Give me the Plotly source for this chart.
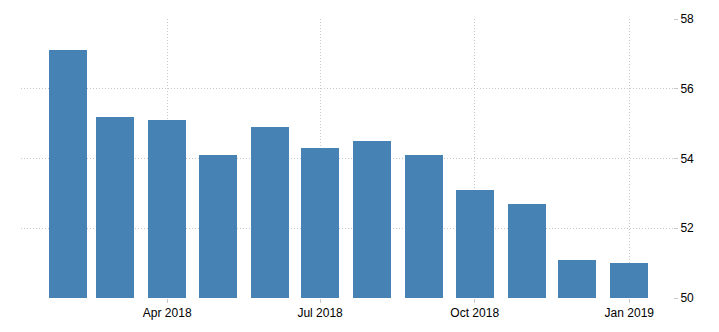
import plotly.graph_objects as go

months = ["2018-02-01", "2018-03-01", "2018-04-01", "2018-05-01", "2018-06-01", "2018-07-01",
          "2018-08-01", "2018-09-01", "2018-10-01", "2018-11-01", "2018-12-01", "2019-01-01"]
values = [57.1, 55.2, 55.1, 54.1, 54.9, 54.3, 54.5, 54.1, 53.1, 52.7, 51.1, 51.0]
x_tick_vals = ["2018-04-01", "2018-07-01", "2018-10-01", "2019-01-01"]
x_tick_text = ["Apr 2018", "Jul 2018", "Oct 2018", "Jan 2019"]
y_ticks = [50, 52, 54, 56, 58]

day_ms = 86400000
fig = go.Figure(go.Bar(
    x=months, y=values, base=0,
    width=[22.6 * day_ms] * len(months),
    marker=dict(color="#4682B4", line=dict(width=0)),
))

fig.update_layout(
    width=719, height=332,
    margin=dict(l=21, r=46, t=15, b=31),
    paper_bgcolor="white", plot_bgcolor="white",
    showlegend=False,
    font=dict(family="Liberation Sans, Arial, sans-serif", size=12, color="#000"),
    bargap=0,
)
fig.update_xaxes(
    type="date", range=["2018-01-04", "2019-01-27"],
    tickvals=x_tick_vals, ticktext=x_tick_text,
    showgrid=True, gridcolor="#c8c8c8", griddash="1px,2px", gridwidth=1,
    ticks="outside", ticklen=4, tickcolor="#c8c8c8",
    showline=False, zeroline=False,
)
fig.update_yaxes(
    side="right", range=[50, 58], tickvals=y_ticks,
    showgrid=True, gridcolor="#c8c8c8", griddash="1px,2px", gridwidth=1,
    ticks="outside", ticklen=4, tickcolor="#c8c8c8",
    showline=False, zeroline=False,
)
fig.write_html("out.html")
